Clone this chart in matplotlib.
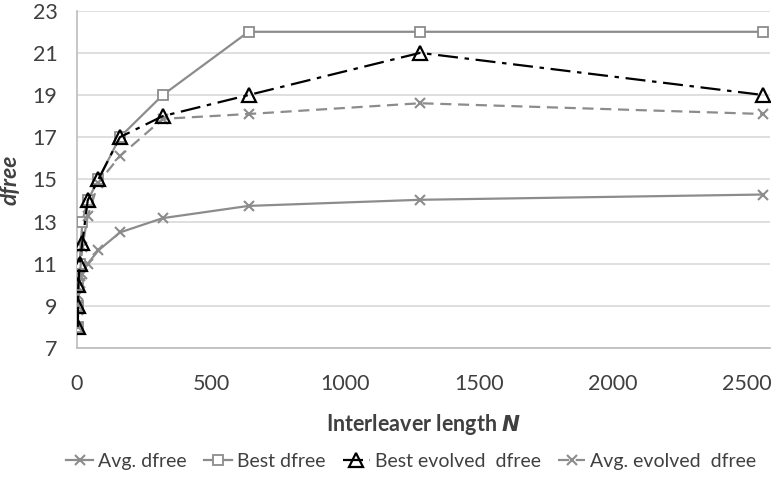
import matplotlib.pyplot as plt

plt.rcParams['font.family'] = ['Lato', 'DejaVu Sans']

# interleaver lengths and free distance results
N = [3, 4, 5, 10, 20, 40, 80, 160, 320, 640, 1280, 2560]
avg_dfree = [8.0, 8.8, 9.5, 10.1, 10.5, 11.0, 11.63, 12.48, 13.16, 13.74, 14.03, 14.28]
best_dfree = [8, 9, 10, 11, 13, 14, 15, 17, 19, 22, 22, 22]
best_evolved = [8, 9, 10, 11, 12, 14, 15, 17, 18, 19, 21, 19]
avg_evolved = [8.0, 9.0, 9.9, 10.4, 11.8, 13.25, 14.85, 16.1, 17.87, 18.1, 18.61, 18.1]

x_ticks = [0, 500, 1000, 1500, 2000, 2500]
y_ticks = [7, 9, 11, 13, 15, 17, 19, 21, 23]

gray = '#8c8c8c'
text_col = '#404040'

fig = plt.figure(figsize=(7.76, 4.78), dpi=100)
ax = fig.add_axes([0.0992, 0.272, 0.893, 0.7056])

ax.plot(N, avg_dfree, color=gray, lw=1.6, marker='x', ms=7, mew=1.5,
        label='Avg. dfree', zorder=3)
ax.plot(N, best_dfree, color=gray, lw=1.6, marker='s', ms=7, mew=1.3,
        mfc='white', label='Best dfree', zorder=3)
ax.plot(N, best_evolved, color='black', lw=1.6, marker='^', ms=10, mew=1.6,
        mfc='none', dashes=(9, 3, 2, 3), label='Best evolved  dfree', zorder=4)
ax.plot(N, avg_evolved, color=gray, lw=1.6, marker='x', ms=7, mew=1.5,
        dashes=(5, 3), label='Avg. evolved  dfree', zorder=3)

ax.set_xlim(0, 2585)
ax.set_ylim(7, 23)
ax.set_xticks(x_ticks)
ax.set_yticks(y_ticks)
ax.tick_params(length=0, labelsize=15.5, colors=text_col)
ax.tick_params(axis='y', pad=14)
ax.tick_params(axis='x', pad=19)

ax.grid(axis='y', color='#d9d9d9', lw=1.2)
ax.set_axisbelow(True)
for s in ['top', 'right']:
    ax.spines[s].set_visible(False)
for s in ['left', 'bottom']:
    ax.spines[s].set_color('#bcbcbc')
    ax.spines[s].set_linewidth(1.2)

ax.set_xlabel(r'Interleaver length $\boldsymbol{N}$', fontsize=15.5,
              fontweight='bold', color=text_col, labelpad=13)
ax.set_ylabel('dfree', fontsize=16.5, fontweight='bold', fontstyle='italic',
              color=text_col, labelpad=9)

fig.legend(loc='center', bbox_to_anchor=(0.53, 0.034), ncol=4, frameon=False,
           fontsize=14, handlelength=1.4, handletextpad=0.25,
           columnspacing=0.9, labelcolor=text_col)

fig.savefig('out.png', dpi=100)
